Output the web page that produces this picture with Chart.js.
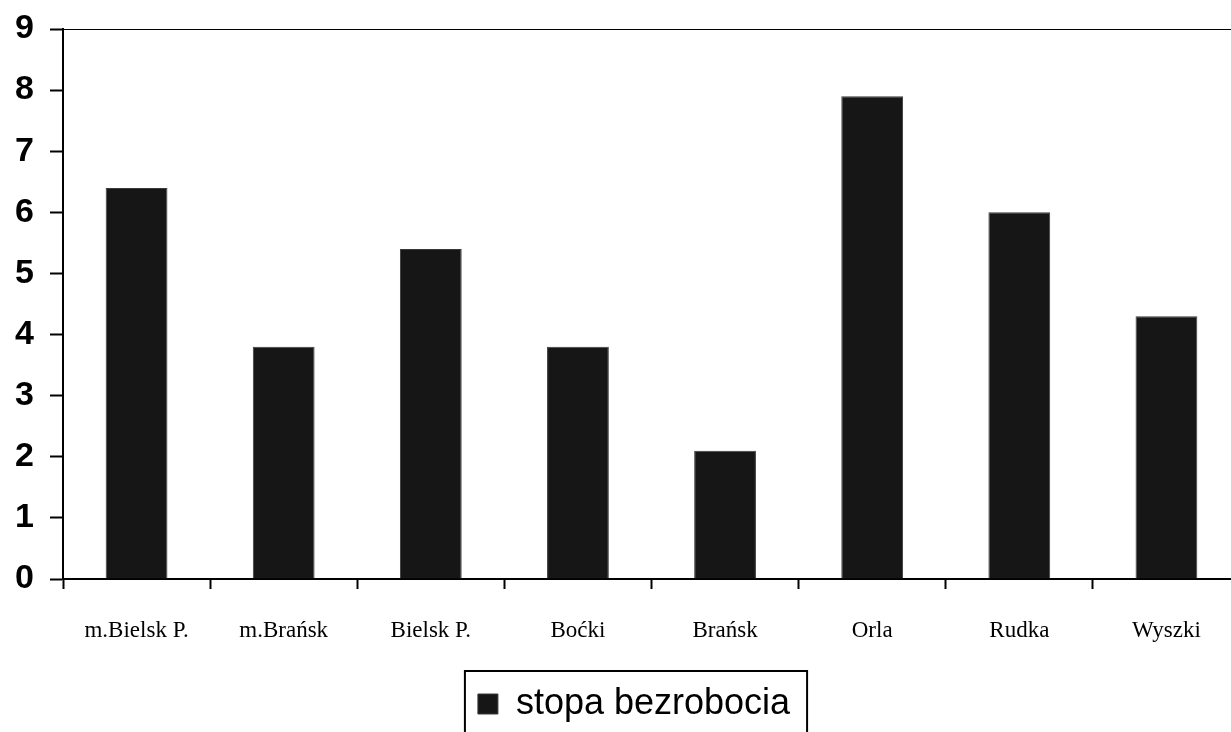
<!DOCTYPE html>
<html>
<head>
<meta charset="utf-8">
<script src="https://cdn.jsdelivr.net/npm/chart.js@4.4.1/dist/chart.umd.min.js"></script>
<style>
  html, body { margin: 0; padding: 0; background: #fff; overflow: hidden; }
  #wrap { width: 1240px; height: 732px; }
</style>
</head>
<body>
<div id="wrap"><canvas id="chart" width="1240" height="732"></canvas></div>
<script>
"use strict";

const categories = ["m.Bielsk P.", "m.Brańsk", "Bielsk P.", "Boćki", "Brańsk", "Orla", "Rudka", "Wyszki"];
const unemploymentRate = [6.4, 3.8, 5.4, 3.8, 2.1, 7.9, 6.0, 4.3];
const seriesLabel = "stopa bezrobocia";
const yTicks = [0, 1, 2, 3, 4, 5, 6, 7, 8, 9];

(function () {
  const LEGEND_SHIFT = 14; // legend in the original sits a bit right of centre

  // nudges the legend and draws a frame around it, like the original
  const legendFrame = {
    id: "legendFrame",
    beforeDraw(chart) {
      const legend = chart.legend;
      if (!legend) return;
      legend.left += LEGEND_SHIFT;
      legend.right += LEGEND_SHIFT;
    },
    afterDraw(chart) {
      const box = chart.legend && chart.legend.legendHitBoxes && chart.legend.legendHitBoxes[0];
      if (!box) return;
      const ctx = chart.ctx;
      ctx.save();
      ctx.strokeStyle = "#000";
      ctx.lineWidth = 2;
      ctx.strokeRect(box.left + LEGEND_SHIFT - 13, box.top - 15, box.width + 30, 100);
      ctx.restore();
    },
  };

  const ctx = document.getElementById("chart").getContext("2d");

  new Chart(ctx, {
    type: "bar",
    data: {
      labels: categories,
      datasets: [
        {
          label: seriesLabel,
          data: unemploymentRate,
          backgroundColor: "#161616",
          borderColor: "#3a3a3a",
          borderWidth: 1,
          categoryPercentage: 1,
          barPercentage: 0.42,
        },
      ],
    },
    options: {
      responsive: false,
      animation: false,
      layout: {
        padding: { left: 0, right: 0, top: 29, bottom: 0 },
      },
      scales: {
        x: {
          grid: {
            offset: true,
            color: "rgba(0,0,0,0)",
            tickColor: "#000",
            tickLength: 10,
            tickWidth: 2,
          },
          border: { color: "#000", width: 2 },
          ticks: {
            color: "#000",
            padding: 28,
            maxRotation: 0,
            autoSkip: false,
            font: { family: "Liberation Serif", size: 23 },
          },
          afterFit(scale) {
            scale.height = 98;
          },
        },
        y: {
          min: 0,
          max: 9,
          afterBuildTicks(scale) {
            scale.ticks = yTicks.map((v) => ({ value: v }));
          },
          grid: {
            color: (c) => (c.tick && c.tick.value === 9 ? "#000" : "rgba(0,0,0,0)"),
            tickColor: "#000",
            tickLength: 13,
            tickWidth: 2,
          },
          border: { color: "#000", width: 2 },
          ticks: {
            color: "#000",
            padding: 16,
            font: { family: "Liberation Sans", size: 34, weight: "bold" },
          },
          afterFit(scale) {
            scale.width = 63;
            scale.paddingTop = 0;
            scale.paddingBottom = 0;
          },
        },
      },
      plugins: {
        legend: {
          position: "bottom",
          labels: {
            color: "#000",
            boxWidth: 20,
            boxHeight: 20,
            padding: 9,
            font: { family: "Liberation Sans", size: 36 },
          },
        },
        tooltip: { enabled: false },
      },
    },
    plugins: [legendFrame],
  });
})();
</script>
</body>
</html>
